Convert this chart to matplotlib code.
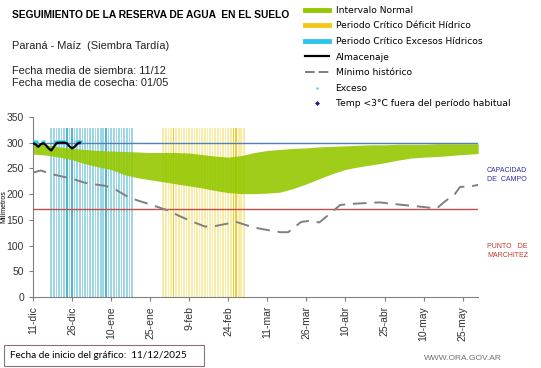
"""
plot.py - seguimiento de la reserva de agua en el suelo (Paraná - Maíz, siembra tardía)
"""
import matplotlib
matplotlib.use("Agg")
import matplotlib.pyplot as plt
from matplotlib.lines import Line2D
from matplotlib.patches import Rectangle

# days counted from 11-dic
tick_days = [0, 15, 30, 45, 60, 75, 90, 105, 120, 135, 150, 165]
tick_labels = ["11-dic", "26-dic", "10-ene", "25-ene", "9-feb", "24-feb",
               "11-mar", "26-mar", "10-abr", "25-abr", "10-may", "25-may"]

# intervalo normal (upper / lower edge)
band_days = [0, 5, 10, 15, 20, 25, 30, 35, 40, 45, 50, 55, 60, 65, 70, 75, 80,
             85, 90, 95, 100, 105, 110, 115, 120, 125, 130, 135, 140, 145, 150,
             155, 160, 165, 171]
band_top = [298, 296, 292, 289, 287, 285, 284, 283, 282, 281, 281, 281, 280,
            277, 274, 272, 275, 281, 285, 287, 289, 290, 292, 293, 294, 295,
            296, 296, 297, 297, 297, 298, 298, 298, 298]
band_low = [278, 276, 272, 267, 259, 253, 248, 238, 232, 228, 224, 220, 216,
            212, 207, 203, 201, 201, 202, 204, 211, 220, 230, 240, 248, 253,
            257, 261, 266, 270, 272, 273, 275, 277, 279]

# minimo historico
min_days = [0, 3, 8, 15, 20, 25, 28, 32, 36, 40, 45, 52, 56, 60, 66, 70, 74,
            78, 83, 87, 95, 98, 103, 106, 110, 114, 118, 122, 133, 142, 150,
            155, 158, 162, 164, 168, 171]
min_vals = [242, 246, 238, 230, 222, 218, 216, 208, 196, 188, 180, 168, 158,
            149, 137, 138, 142, 146, 138, 133, 126, 126, 146, 148, 145, 162,
            179, 181, 184, 179, 175, 172, 185, 200, 214, 215, 218]

# almacenaje
alm_days = list(range(19))
alm_vals = [299, 297, 292, 297, 299, 295, 289, 285, 292, 299, 300, 300, 300,
            299, 293, 289, 292, 298, 300]

# exceso
exc_days = [0, 1, 4, 9, 10, 11, 12, 17, 18]
exc_vals = [301, 301, 301, 301, 301, 301, 301, 301, 301]

# periodos criticos (one bar per day, level 2 = darker)
wet_days = list(range(7, 39))
wet_level = [1, 1, 1, 1, 1, 1, 2, 1, 2, 1, 1, 1, 1, 1, 1, 1, 1, 1, 1, 1, 1,
             2, 1, 1, 1, 1, 1, 1, 1, 1, 1, 1]
dry_days = list(range(50, 82))
dry_level = [1, 1, 1, 1, 2, 1, 1, 1, 1, 1, 1, 1, 1, 1, 1, 1, 1, 1, 1, 1, 1,
             1, 1, 1, 1, 1, 1, 2, 2, 1, 1, 1]
bar_top = 328

capacidad = 300
marchitez = 171

GREEN = "#95c800"
WET = {1: "#9dd6e5", 2: "#4cb8d0"}
DRY = {1: "#f7eba6", 2: "#efcf30"}

plt.rcParams["font.family"] = ["Liberation Sans", "DejaVu Sans"]

fig = plt.figure(figsize=(5.41, 3.68), dpi=100)
ax = fig.add_axes([0.061, 0.193, 0.823, 0.489])

ax.bar(wet_days, [bar_top] * len(wet_days), width=0.62,
       color=[WET[l] for l in wet_level], lw=0, zorder=1)
ax.bar(dry_days, [bar_top] * len(dry_days), width=0.62,
       color=[DRY[l] for l in dry_level], lw=0, zorder=1)
ax.fill_between(band_days, band_low, band_top, color=GREEN, alpha=0.9,
                lw=0, zorder=2)
ax.axhline(capacidad, color="#4f81bd", lw=1.0, zorder=4)
ax.axhline(marchitez, color="#c0504d", lw=1.0, zorder=4)
ax.plot(min_days, min_vals, color="#808080", lw=1.4, dashes=(7, 4), zorder=5)
ax.plot(exc_days, exc_vals, ls="none", marker="s", ms=2.4, color="#33c5e8",
        mec="none", zorder=6)
ax.plot(alm_days, alm_vals, color="black", lw=1.6, zorder=7)

ax.set_xlim(0, 171)
ax.set_ylim(0, 350)
ax.set_yticks(range(0, 351, 50))
ax.set_xticks(tick_days)
ax.set_xticklabels(tick_labels, rotation=90)
ax.tick_params(labelsize=7.5, labelcolor="#333333", length=3, width=0.8,
               color="#808080")
for s in ("top", "right"):
    ax.spines[s].set_visible(False)
for s in ("left", "bottom"):
    ax.spines[s].set_color("#808080")
ax.set_ylabel("Milímetros", fontsize=5, labelpad=0)
ax.yaxis.set_label_coords(-0.058, 0.5)

# texts
fig.text(12 / 541, 1 - 15 / 368, "SEGUIMIENTO DE LA RESERVA DE AGUA  EN EL SUELO",
         fontsize=7.4, fontweight="bold", va="center")
fig.text(12 / 541, 1 - 46 / 368, "Paraná - Maíz  (Siembra Tardía)",
         fontsize=7.9, va="center", color="#222222")
fig.text(12 / 541, 1 - 77 / 368,
         "Fecha media de siembra: 11/12\nFecha media de cosecha: 01/05",
         fontsize=7.9, va="center", color="#222222", linespacing=1.2)
fig.text(487 / 541, 1 - 175 / 368, "CAPACIDAD\nDE  CAMPO", fontsize=5,
         color="#2e2e9a", va="center", linespacing=1.3)
fig.text(487 / 541, 1 - 251 / 368, "PUNTO   DE\nMARCHITEZ", fontsize=5,
         color="#c0392b", va="center", linespacing=1.3)
fig.patches.append(Rectangle((4 / 541, 1 - 366 / 368), 200 / 541, 21 / 368,
                             transform=fig.transFigure, fc="white",
                             ec="#8a7070", lw=0.8))
fig.text(10 / 541, 1 - 356 / 368, "Fecha de inicio del gráfico:  11/12/2025",
         fontsize=7.2, family=["Lato", "DejaVu Sans"], va="center")
fig.text(424 / 541, 1 - 359 / 368, "WWW.ORA.GOV.AR", fontsize=6.0,
         color="#6e6e6e", va="center")

# legend
handles = [
    Line2D([], [], color=GREEN, lw=3.5),
    Line2D([], [], color="#f5c518", lw=3.5),
    Line2D([], [], color="#2ec3ea", lw=3.5),
    Line2D([], [], color="black", lw=1.6),
    Line2D([], [], color="#808080", lw=1.4, dashes=(5, 2)),
    Line2D([], [], ls="none", marker="s", ms=2, color="#33c5e8", mec="none"),
    Line2D([], [], ls="none", marker="D", ms=2.5, color="#1a1a8c", mec="none"),
]
labels = ["Intervalo Normal", "Periodo Crítico Déficit Hídrico",
          "Periodo Crítico Excesos Hídricos", "Almacenaje", "Mínimo histórico",
          "Exceso", "Temp <3°C fuera del período habitual"]
fig.legend(handles, labels, loc="upper left", bbox_to_anchor=(303 / 541, 1 - 4 / 368),
           frameon=False, prop={"family": "DejaVu Sans", "size": 6.6},
           handlelength=2.6, handletextpad=0.75, labelspacing=0.72,
           borderaxespad=0, borderpad=0.2)

fig.savefig("out.png", dpi=100)
